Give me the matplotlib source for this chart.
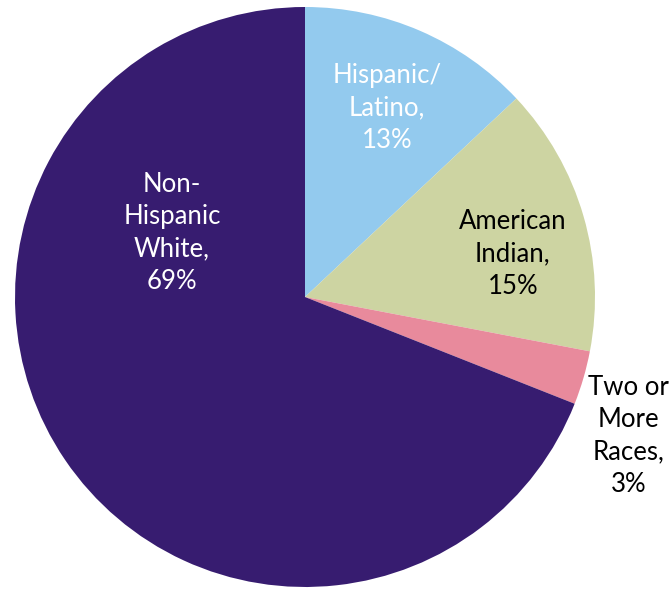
import matplotlib
matplotlib.use('Agg')
import matplotlib.pyplot as plt

# Slice data (clockwise from 12 o'clock)
categories = ['Hispanic/\nLatino,', 'American\nIndian,', 'Two or\nMore\nRaces,', 'Non-\nHispanic\nWhite,']
values = [13, 15, 3, 69]
colors = ['#93CAEE', '#CDD4A2', '#E88A9C', '#371C70']
text_colors = ['white', 'black', 'black', 'white']
# label centres in data units (pie radius = 1)
label_pos = [(0.283, 0.652), (0.717, 0.148), (1.117, -0.479), (-0.459, 0.221)]

plt.rcParams['font.family'] = ['Lato', 'DejaVu Sans']

fig = plt.figure(figsize=(6.71, 5.89), dpi=100)
ax = fig.add_axes([0, 0, 1, 1])

wedges, texts = ax.pie(values, colors=colors, startangle=90, counterclock=False,
                       labels=[f'{c}\n{v}%' for c, v in zip(categories, values)],
                       wedgeprops=dict(linewidth=0))

for t, pos, tc in zip(texts, label_pos, text_colors):
    t.set_position(pos)
    t.set_ha('center')
    t.set_va('center')
    t.set_color(tc)
    t.set_fontsize(18.5)
    t.set_linespacing(1.38)

ax.set_xlim(-305 / 290, 366 / 290)
ax.set_ylim(-292 / 290, 297 / 290)
ax.axis('off')

fig.savefig('out.png', dpi=100)
